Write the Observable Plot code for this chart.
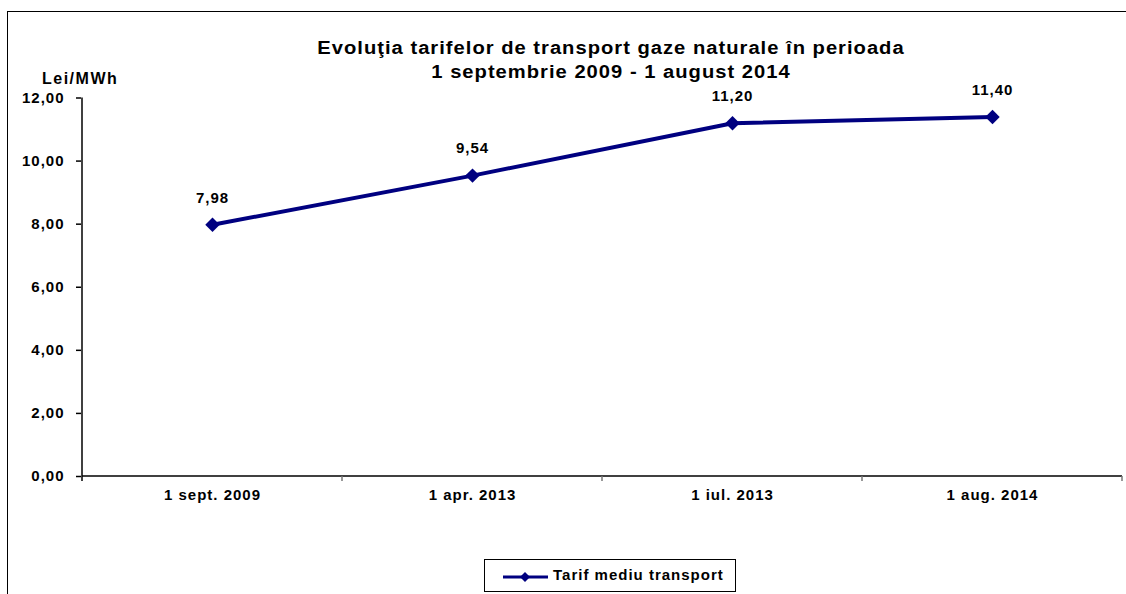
<!DOCTYPE html>
<html>
<head>
<meta charset="utf-8">
<script src="https://cdn.jsdelivr.net/npm/d3@7"></script>
<script src="https://cdn.jsdelivr.net/npm/@observablehq/plot@0.6"></script>
<style>
  html, body { margin: 0; padding: 0; background: #fff; }
  #wrap { position: relative; width: 1126px; height: 594px; overflow: hidden; font-family: "Liberation Sans", Arial, sans-serif; }
  #frame { position: absolute; left: 7px; top: 11px; width: 1300px; height: 700px; border-left: 1px solid #000; border-top: 1px solid #000; }
  #title { position: absolute; left: 0; width: 1222px; top: 36px; text-align: center; font-weight: bold; font-size: 18px; line-height: 24px; letter-spacing: 0.9px; color: #000; transform: scaleX(1.12); transform-origin: 611px 0; }
  #unit { position: absolute; left: 42px; top: 70px; font-weight: bold; font-size: 16px; letter-spacing: 1.5px; }
  #legend { position: absolute; left: 484px; top: 559px; width: 252px; height: 33px; border: 1px solid #000; box-sizing: border-box; background: #fff; }
  #legend svg { position: absolute; left: 17px; top: 9px; }
  #legend span { position: absolute; left: 68px; top: 6px; font-weight: bold; font-size: 15px; letter-spacing: 1px; white-space: nowrap; }
  #chart { position: absolute; left: 0; top: 0; }
  #chart text { letter-spacing: 1px; }
</style>
</head>
<body>
<div id="wrap">
  <div id="frame"></div>
  <div id="chart"></div>
  <div id="title">Evoluţia tarifelor de transport gaze naturale în perioada<br>1 septembrie 2009 - 1 august 2014</div>
  <div id="unit">Lei/MWh</div>
  <div id="legend"><svg width="48" height="16"><line x1="1" y1="8" x2="46" y2="8" stroke="#000080" stroke-width="3"/><path d="M23,3 L28,8 L23,13 L18,8 Z" fill="#000080"/></svg><span>Tarif mediu transport</span></div>
</div>
<script>
const categories = ["1 sept. 2009", "1 apr. 2013", "1 iul. 2013", "1 aug. 2014"];
const values = [7.98, 9.54, 11.20, 11.40];
const yTicks = [0, 2, 4, 6, 8, 10, 12];
const seriesName = "Tarif mediu transport";

const data = categories.map((c, i) => ({cat: c, v: values[i]}));
const fmt = d => d.toFixed(2).replace(".", ",");

// Custom mark: axis lines and category boundary ticks, from the scales
function axesMark(index, scales, values, dims) {
  const x = scales.x, y = scales.y;
  const step = x(categories[1]) - x(categories[0]);
  const left = x(categories[0]) - step / 2;
  const right = x(categories[categories.length - 1]) + step / 2;
  const y0 = y(0), yTop = y(12);
  const g = d3.create("svg:g");
  g.append("line").attr("x1", left).attr("x2", left).attr("y1", yTop).attr("y2", y0 + 5).attr("stroke", "#000").attr("stroke-width", 1.5);
  g.append("line").attr("x1", left).attr("x2", right).attr("y1", y0).attr("y2", y0).attr("stroke", "#000").attr("stroke-width", 1.5);
  categories.forEach(c => {
    const bx = x(c) + step / 2;
    g.append("line").attr("x1", bx).attr("x2", bx).attr("y1", y0).attr("y2", y0 + 5).attr("stroke", "#777").attr("stroke-width", 1.5);
  });
  return g.node();
}

const plot = Plot.plot({
  width: 1126,
  height: 594,
  marginLeft: 81,
  marginRight: 4,
  marginTop: 97.5,
  marginBottom: 118,
  style: {fontFamily: "'Liberation Sans', Arial, sans-serif", background: "transparent"},
  x: {type: "point", domain: categories, padding: 0.5},
  y: {domain: [0, 12]},
  marks: [
    Plot.axisY({ticks: yTicks, tickFormat: fmt, tickSize: 5, tickPadding: 12, fontSize: 15, fontWeight: "bold", label: null, stroke: "#000", strokeWidth: 1.5, color: "#000"}),
    Plot.axisX({tickSize: 0, tickPadding: 13, fontSize: 15, fontWeight: "bold", label: null, color: "#000"}),
    axesMark,
    Plot.line(data, {x: "cat", y: "v", stroke: "#000080", strokeWidth: 4}),
    Plot.dot(data, {x: "cat", y: "v", symbol: "diamond2", r: 6.5, fill: "#000080", stroke: "none"}),
    Plot.text(data, {x: "cat", y: "v", text: d => fmt(d.v), dy: -27, fontSize: 15, fontWeight: "bold", fill: "#000"})
  ]
});
document.getElementById("chart").appendChild(plot);
</script>
</body>
</html>
